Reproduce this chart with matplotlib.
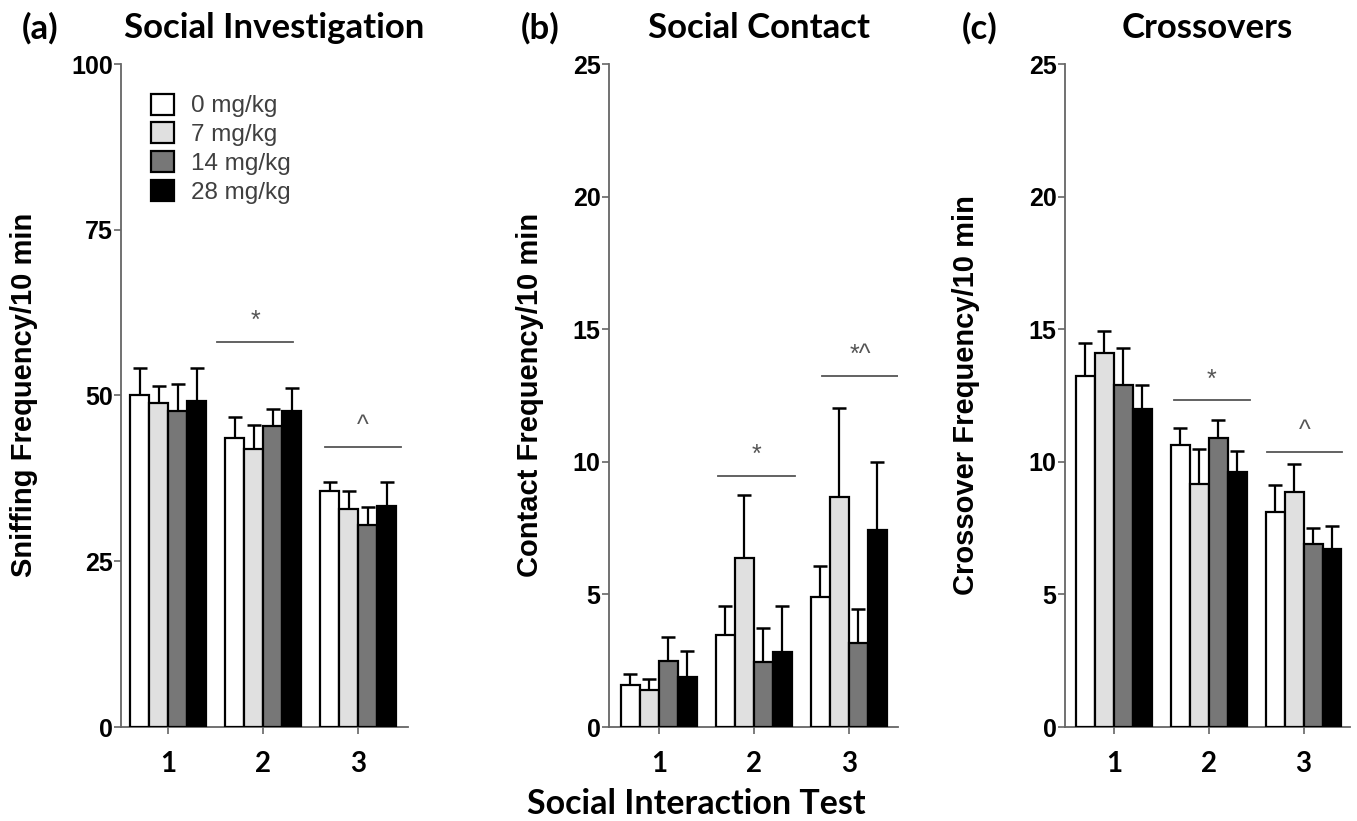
import matplotlib
matplotlib.use("Agg")
import matplotlib.pyplot as plt
import numpy as np

# ---------------- data ----------------
tests = ["1", "2", "3"]
doses = ["0 mg/kg", "7 mg/kg", "14 mg/kg", "28 mg/kg"]

sniff_0 = [50.1, 43.6, 35.6]
sniff_7 = [48.9, 41.9, 32.9]
sniff_14 = [47.7, 45.4, 30.5]
sniff_28 = [49.2, 47.7, 33.4]
sniff_0_err = [4.0, 3.2, 1.4]
sniff_7_err = [2.6, 3.7, 2.7]
sniff_14_err = [4.0, 2.6, 2.7]
sniff_28_err = [4.9, 3.4, 3.6]

contact_0 = [1.58, 3.47, 4.89]
contact_7 = [1.39, 6.39, 8.68]
contact_14 = [2.48, 2.46, 3.18]
contact_28 = [1.87, 2.84, 7.41]
contact_0_err = [0.42, 1.10, 1.19]
contact_7_err = [0.41, 2.37, 3.36]
contact_14_err = [0.92, 1.26, 1.27]
contact_28_err = [1.01, 1.73, 2.58]

cross_0 = [13.22, 10.62, 8.12]
cross_7 = [14.12, 9.18, 8.88]
cross_14 = [12.91, 10.91, 6.91]
cross_28 = [12.00, 9.61, 6.71]
cross_0_err = [1.26, 0.65, 1.02]
cross_7_err = [0.81, 1.31, 1.02]
cross_14_err = [1.38, 0.65, 0.59]
cross_28_err = [0.90, 0.79, 0.86]

# significance marks: (test index, line y, label)
sniff_sig = [(1, 58.1, "*"), (2, 42.3, "^")]
contact_sig = [(1, 9.46, "*"), (2, 13.24, "*^")]
cross_sig = [(1, 12.32, "*"), (2, 10.38, "^")]

panel_letters = ["(a)", "(b)", "(c)"]
panel_titles = ["Social Investigation", "Social Contact", "Crossovers"]
y_labels = ["Sniffing Frequency/10 min", "Contact Frequency/10 min", "Crossover Frequency/10 min"]
y_ticks = [[0, 25, 50, 75, 100], [0, 5, 10, 15, 20, 25], [0, 5, 10, 15, 20, 25]]
x_label = "Social Interaction Test"

# ---------------- style ----------------
bar_colors = ["#ffffff", "#e0e0e0", "#777777", "#000000"]
axis_grey = "#666666"
sig_grey = "#555555"
TITLE_FONT = "Lato"
ARIAL = "Liberation Sans"

W, H = 1357, 821
fig = plt.figure(figsize=(W / 100, H / 100), dpi=100)

axes_px = [(121, 408), (609, 898), (1065, 1350)]
top_px, bot_px = 64, 727
xlims = [(0.505, 3.526), (0.474, 3.52), (0.484, 3.49)]
sig_spans = [[(-0.48, 0.32), (-0.35, 0.45)],
             [(-0.38, 0.43), (-0.28, 0.52)],
             [(-0.37, 0.43), (-0.39, 0.41)]]

panels = [
    ([sniff_0, sniff_7, sniff_14, sniff_28],
     [sniff_0_err, sniff_7_err, sniff_14_err, sniff_28_err], sniff_sig),
    ([contact_0, contact_7, contact_14, contact_28],
     [contact_0_err, contact_7_err, contact_14_err, contact_28_err], contact_sig),
    ([cross_0, cross_7, cross_14, cross_28],
     [cross_0_err, cross_7_err, cross_14_err, cross_28_err], cross_sig),
]

letter_x = [40, 540, 980]
title_x = [274, 759, 1207]
ylabel_x = [24, 530, 966]

x = np.arange(1, len(tests) + 1)
bw = 0.2
offsets = (np.arange(4) - 1.5) * bw

for i, (means, errs, sigs) in enumerate(panels):
    l, r = axes_px[i]
    ax = fig.add_axes([l / W, 1 - bot_px / H, (r - l) / W, (bot_px - top_px) / H])
    handles = []
    for j in range(4):
        m = np.array(means[j])
        e = np.array(errs[j])
        b = ax.bar(x + offsets[j], m, bw, color=bar_colors[j], edgecolor="black",
                   linewidth=1.6, label=doses[j], zorder=3,
                   yerr=[np.zeros_like(e), e],
                   error_kw=dict(ecolor="black", elinewidth=1.6, capsize=5,
                                 capthick=1.8, zorder=2))
        handles.append(b)
    ax.set_xlim(*xlims[i])
    ax.set_ylim(0, y_ticks[i][-1])
    ax.set_yticks(y_ticks[i], labels=[str(v) for v in y_ticks[i]],
                  fontfamily=ARIAL, fontweight="bold", fontsize=18)
    ax.set_xticks(x, labels=tests, fontfamily=TITLE_FONT, fontweight="bold",
                  fontsize=20)
    for s in ["top", "right"]:
        ax.spines[s].set_visible(False)
    for s in ["left", "bottom"]:
        ax.spines[s].set_color(axis_grey)
        ax.spines[s].set_linewidth(1.3)
    ax.tick_params(axis="both", colors=axis_grey, length=5, width=1.2, labelcolor="black")
    ax.tick_params(axis="y", pad=1)
    ax.tick_params(axis="x", pad=12)

    for (gi, yl, lab), (x0, x1) in zip(sigs, sig_spans[i]):
        cx = x[gi]
        ax.plot([cx + x0, cx + x1], [yl, yl], color=sig_grey, lw=1.3, zorder=4)
        ax.annotate(lab, xy=(cx + (x0 + x1) / 2, yl), xytext=(0, 10),
                    textcoords="offset points", ha="center", va="baseline",
                    fontsize=18, color=sig_grey, fontfamily=ARIAL)

    fig.text(ylabel_x[i] / W, 1 - 395 / H, y_labels[i], rotation=90,
             ha="center", va="center", fontsize=21, fontweight="bold",
             fontfamily=ARIAL)
    fig.text(letter_x[i] / W, 1 - 28 / H, panel_letters[i], ha="center", va="center",
             fontsize=25, fontweight="bold", fontfamily=TITLE_FONT)
    fig.text(title_x[i] / W, 1 - 28 / H, panel_titles[i], ha="center", va="center",
             fontsize=25, fontweight="bold", fontfamily=TITLE_FONT)

    if i == 0:
        leg = ax.legend(handles=handles, loc="upper left", bbox_to_anchor=(0.07, 0.970),
                        frameon=False, handlelength=0.95, handleheight=0.95,
                        handletextpad=0.7, labelspacing=0.2, borderaxespad=0,
                        prop=dict(family=ARIAL, size=17.5))
        for t in leg.get_texts():
            t.set_color("#404040")

fig.text(696 / W, 1 - 804 / H, x_label, ha="center", va="center", fontsize=24.5,
         fontweight="bold", fontfamily=TITLE_FONT)

fig.savefig("out.png", dpi=100, facecolor="white")
